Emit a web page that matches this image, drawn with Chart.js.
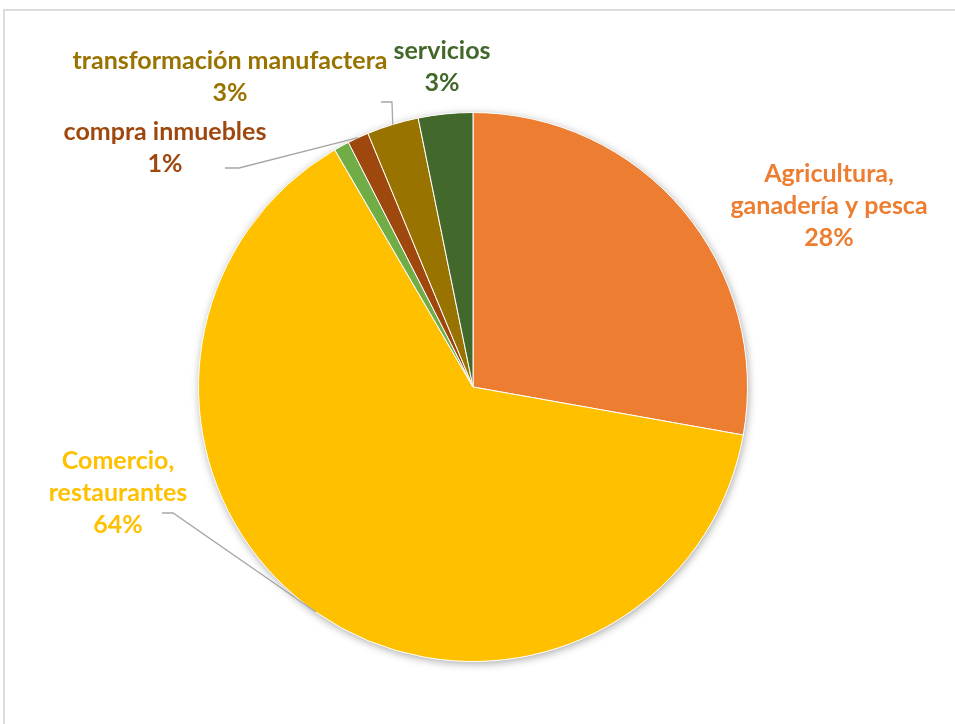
<!DOCTYPE html>
<html>
<head>
<meta charset="utf-8">
<script src="https://cdn.jsdelivr.net/npm/chart.js@4.4.1/dist/chart.umd.min.js"></script>
<style>
  html, body { margin: 0; padding: 0; background: #fff; overflow: hidden; }
  #frame { position: absolute; left: 3px; top: 9px; width: 1000px; height: 800px; border: 2px solid #dcdcdc; box-sizing: border-box; }
  #pie { position: absolute; left: 0; top: 0; }
</style>
</head>
<body>
<div id="frame"></div>
<canvas id="pie" width="955" height="724"></canvas>
<script>
// sectors, clockwise from 12 o'clock
var categories = ['Agricultura, ganadería y pesca', 'Comercio, restaurantes', 'otros', 'compra inmuebles', 'transformación manufactera', 'servicios'];
var shares = [27.8, 63.8, 0.9, 1.25, 3.05, 3.2];
var sliceColors = ['#ED7D31', '#FFC000', '#70AD47', '#9E480E', '#997300', '#43682B'];

// how each label is written (null = no label shown)
var labelLines = [
  ['Agricultura,', 'ganadería y pesca'],
  ['Comercio,', 'restaurantes'],
  null,
  ['compra inmuebles'],
  ['transformación manufactera'],
  ['servicios']
];

(function () {
  var FONT = 'bold 25px Lato, "Open Sans", sans-serif';
  var LINE_H = 32;
  // label centre, offset from the pie centre
  var labelAt = [[356, -181], [-355, 106], null, [-308, -239], [-243, -310], [-31, -320]];
  // elbow of the leader line, offset from the pie centre
  var elbow = [null, [-311, 126, -300, 126], null, [-248, -219, -234, -219], [-92, -285, -81, -285], null];

  var total = shares.reduce(function (a, b) { return a + b; }, 0);

  var shadowPlugin = {
    id: 'pieShadow',
    beforeDatasetsDraw: function (chart) {
      var a = chart.getDatasetMeta(0).data[0];
      var ctx = chart.ctx;
      ctx.save();
      ctx.shadowColor = 'rgba(0,0,0,0.35)';
      ctx.shadowBlur = 9;
      ctx.shadowOffsetX = 1;
      ctx.shadowOffsetY = 2;
      ctx.beginPath();
      ctx.arc(a.x, a.y, a.outerRadius, 0, Math.PI * 2);
      ctx.fillStyle = '#fff';
      ctx.fill();
      ctx.restore();
    }
  };

  var labelPlugin = {
    id: 'sliceLabels',
    afterDatasetsDraw: function (chart) {
      var ctx = chart.ctx;
      var arcs = chart.getDatasetMeta(0).data;
      ctx.save();
      arcs.forEach(function (arc, i) {
        if (!labelLines[i]) return;
        var cx = arc.x, cy = arc.y;
        if (elbow[i]) {
          var mid = (arc.startAngle + arc.endAngle) / 2;
          var e = elbow[i];
          ctx.beginPath();
          ctx.moveTo(cx + e[0], cy + e[1]);
          ctx.lineTo(cx + e[2], cy + e[3]);
          ctx.lineTo(cx + Math.cos(mid) * arc.outerRadius, cy + Math.sin(mid) * arc.outerRadius);
          ctx.strokeStyle = '#a6a6a6';
          ctx.lineWidth = 1.3;
          ctx.stroke();
        }
        var lines = labelLines[i].concat([Math.round(shares[i] / total * 100) + '%']);
        var lx = cx + labelAt[i][0];
        var ly = cy + labelAt[i][1] - (lines.length - 1) * LINE_H / 2;
        ctx.font = FONT;
        ctx.fillStyle = sliceColors[i];
        ctx.textAlign = 'center';
        ctx.textBaseline = 'middle';
        lines.forEach(function (t, k) { ctx.fillText(t, lx, ly + k * LINE_H); });
      });
      ctx.restore();
    }
  };

  new Chart(document.getElementById('pie').getContext('2d'), {
    type: 'pie',
    data: {
      labels: categories,
      datasets: [{ data: shares, backgroundColor: sliceColors, borderColor: '#ffffff', borderWidth: 1 }]
    },
    options: {
      responsive: false,
      animation: false,
      layout: { padding: { left: 198, right: 207, top: 112, bottom: 62 } },
      plugins: { legend: { display: false }, tooltip: { enabled: false } }
    },
    plugins: [shadowPlugin, labelPlugin]
  });
})();
</script>
</body>
</html>
